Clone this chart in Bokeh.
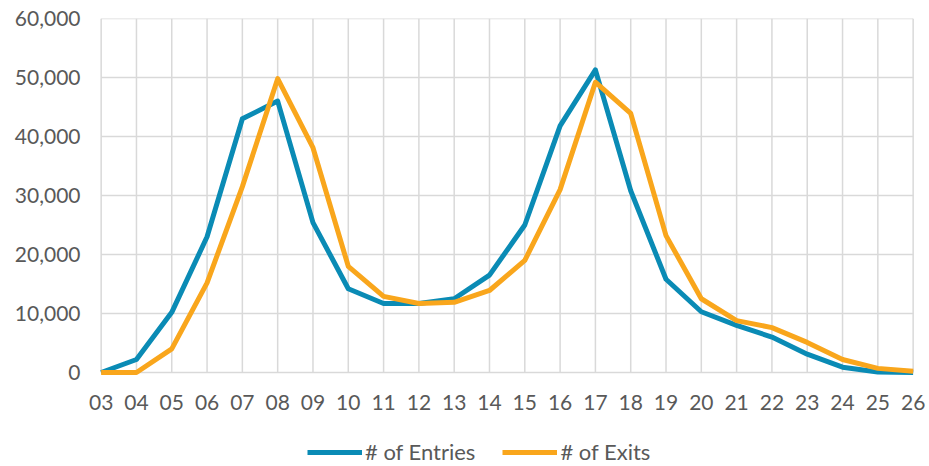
from bokeh.plotting import figure
from bokeh.models import FixedTicker, Legend, LegendItem, ColumnDataSource
from bokeh.embed import file_html
from bokeh.resources import INLINE

hours = ["03", "04", "05", "06", "07", "08", "09", "10", "11", "12", "13", "14",
         "15", "16", "17", "18", "19", "20", "21", "22", "23", "24", "25", "26"]
entries = [0, 2200, 10200, 23000, 43000, 46000, 25400, 14200, 11700, 11700, 12500, 16500,
           25000, 41800, 51300, 30800, 15800, 10300, 8000, 6000, 3100, 900, 100, 0]
exits = [0, 0, 4000, 15200, 31500, 49800, 38100, 18000, 12900, 11700, 11900, 13900,
         19000, 31000, 49200, 43900, 23200, 12500, 8800, 7600, 5100, 2200, 700, 200]
y_ticks = [0, 10000, 20000, 30000, 40000, 50000, 60000]
y_min, y_max = 0, 60000

xs = list(range(len(hours)))
x_last = len(hours) - 1
src = ColumnDataSource(dict(x=xs, entries=entries, exits=exits))
vgrid_src = ColumnDataSource(dict(x=xs, y0=[y_min] * len(xs), y1=[y_max] * len(xs)))
hgrid_src = ColumnDataSource(dict(y=y_ticks, x0=[0] * len(y_ticks), x1=[x_last] * len(y_ticks)))

FONT = "Lato"
TXT = "#595959"
GRID = "#d9d9d9"

# frame extends below the zero line (for the legend) and slightly past the first/last hour
PLOT_H = 354
EXTRA = 93
PAD_L, PAD_R = 0.5, 0.35
UNIT = 812 / x_last
p = figure(frame_width=int(round((x_last + PAD_L + PAD_R) * UNIT)), frame_height=PLOT_H + EXTRA,
           output_backend="svg", toolbar_location=None,
           x_range=(-PAD_L, x_last + PAD_R),
           y_range=(y_min - (y_max - y_min) * EXTRA / PLOT_H, y_max),
           min_border_left=83, min_border_right=0, min_border_top=18, min_border_bottom=0)
p.outline_line_color = None
p.background_fill_color = "white"

p.xaxis.ticker = FixedTicker(ticks=xs)
p.xaxis.major_label_overrides = {i: h for i, h in enumerate(hours)}
p.xaxis.fixed_location = 0
p.yaxis.ticker = FixedTicker(ticks=y_ticks)
p.yaxis.major_label_overrides = {v: f"{v:,}" for v in y_ticks}

for ax in (p.xaxis[0], p.yaxis[0]):
    ax.axis_line_color = None
    ax.major_tick_line_color = None
    ax.minor_tick_line_color = None
    ax.major_tick_out = 0
    ax.major_label_text_font = FONT
    ax.major_label_text_font_size = "21px"
    ax.major_label_text_color = TXT
p.yaxis.major_label_standoff = 3
p.xaxis.major_label_standoff = 22

p.xgrid.grid_line_color = None
p.ygrid.grid_line_color = None
p.segment("x", "y0", "x", "y1", source=vgrid_src, line_color=GRID, line_width=1.5)
p.segment("x0", "y", "x1", "y", source=hgrid_src, line_color=GRID, line_width=1.5)

r1 = p.line("x", "entries", source=src, line_color="#0A8BB5", line_width=5, line_join="round")
r2 = p.line("x", "exits", source=src, line_color="#F9A61C", line_width=5, line_join="round")

legend = Legend(items=[LegendItem(label="# of Entries", renderers=[r1]),
                       LegendItem(label="# of Exits", renderers=[r2])],
                orientation="horizontal", location=(224, 0),
                border_line_color=None, background_fill_alpha=0,
                label_text_font=FONT, label_text_font_size="22px", label_text_color=TXT,
                glyph_width=55, label_standoff=3, spacing=27, padding=0, margin=0)
p.add_layout(legend, "center")

open("out.html", "w").write(file_html(p, INLINE))
